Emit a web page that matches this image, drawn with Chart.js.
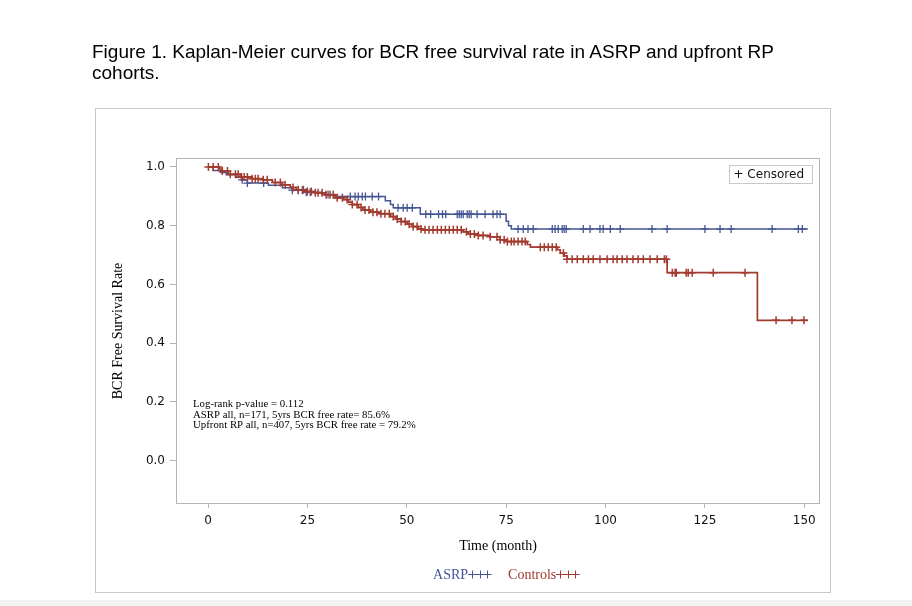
<!DOCTYPE html>
<html><head><meta charset="utf-8">
<script src="https://cdn.jsdelivr.net/npm/chart.js@4.4.0/dist/chart.umd.min.js"></script>
<style>
html,body{margin:0;padding:0;background:#fff;width:912px;height:606px;overflow:hidden;}
#strip{position:absolute;left:0;top:600px;width:912px;height:6px;background:#f3f3f3;}
#wrap{position:absolute;left:0;top:0;width:912px;height:606px;}
#title{position:absolute;left:92px;top:41px;font-family:"Liberation Sans",Arial,sans-serif;font-size:19px;line-height:21px;color:#000;white-space:nowrap;}
</style></head><body>
<div id="strip"></div>
<div id="wrap"><canvas id="c" width="912" height="606"></canvas></div>
<div id="title">Figure 1. Kaplan-Meier curves for BCR free survival rate in ASRP and upfront RP<br>cohorts.</div>
<script>
// ---- data (months, survival probability) ----
const xTicks = [0, 25, 50, 75, 100, 125, 150];
const yTicks = [0.0, 0.2, 0.4, 0.6, 0.8, 1.0];

const asrpTimes = [0, 1.3, 3.1, 4.6, 7.1, 8.6, 9.9, 15.2, 18.7, 21.2, 24.5, 28.7, 32.0, 44.6, 45.9, 46.6, 53.4, 75.0, 75.6, 76.3, 150.9];
const asrpSurv  = [1.000, 0.988, 0.981, 0.973, 0.965, 0.956, 0.945, 0.938, 0.929, 0.921, 0.914, 0.906, 0.899, 0.885, 0.872, 0.861, 0.839, 0.815, 0.800, 0.789, 0.789];
const asrpCensored = [8.6, 9.9, 14.0, 21.2, 22.7, 23.7, 24.7, 25.7, 30.2, 35.8, 37.0, 37.8, 38.8, 39.6, 41.3, 42.9, 47.8, 49.1, 50.1, 51.4,
  54.8, 56.0, 58.0, 59.0, 59.8, 62.7, 63.2, 63.7, 64.2, 65.2, 65.7, 66.2, 67.7, 69.7, 71.7, 72.7, 73.5,
  78.0, 79.3, 80.5, 81.8, 86.6, 87.3, 88.1, 89.1, 89.6, 90.1, 94.4, 96.1, 98.6, 99.4, 101.2, 103.7,
  111.7, 115.5, 125.0, 128.8, 131.6, 141.9, 148.5, 149.5];

const ctrlTimes = [0, 2.8, 3.5, 5.1, 8.1, 11.1, 13.7, 16.2, 18.7, 20.7, 22.2, 24.7, 27.0, 29.5, 32.0, 34.0, 35.3, 36.3, 37.8, 39.0, 40.8, 43.3, 45.9, 47.3, 48.6, 50.1, 51.4, 52.9, 53.9, 64.2, 65.5, 68.0, 71.0, 73.5, 75.3, 80.3, 81.1, 87.9, 88.6, 89.6, 90.3, 115.5, 138.2, 150.9];
const ctrlSurv  = [1.000, 0.993, 0.986, 0.975, 0.966, 0.960, 0.956, 0.947, 0.939, 0.930, 0.922, 0.916, 0.912, 0.905, 0.895, 0.889, 0.880, 0.872, 0.862, 0.853, 0.846, 0.841, 0.831, 0.823, 0.814, 0.805, 0.797, 0.789, 0.786, 0.779, 0.772, 0.767, 0.762, 0.752, 0.746, 0.736, 0.727, 0.718, 0.707, 0.697, 0.686, 0.640, 0.478, 0.478];
const ctrlCensored = [0.1, 1.3, 2.6, 3.6, 4.9, 5.6, 6.9, 7.6, 8.4, 9.1, 9.9, 11.1, 11.9, 12.6, 13.9, 14.9, 16.9, 18.2, 19.4, 21.4, 22.7,
  24.0, 25.0, 26.0, 27.0, 27.7, 28.7, 29.7, 30.7, 31.5, 32.5, 33.8, 35.0, 36.3, 37.5, 38.5, 39.5, 40.5, 41.5, 42.5, 43.5, 44.5,
  45.6, 46.6, 47.6, 48.6, 49.6, 50.6, 51.6, 52.6, 53.6, 54.6, 55.6, 56.6, 57.7, 58.7, 59.7, 60.7, 61.7, 62.7, 63.7, 65.0, 66.0,
  67.0, 68.0, 69.2, 71.0, 72.7, 73.5, 74.5, 75.3, 76.3, 77.0, 78.0, 79.0, 79.8, 83.6, 84.6, 85.6, 86.6, 87.6, 89.4, 90.3, 91.6,
  92.9, 94.4, 95.7, 96.9, 98.6, 100.4, 101.9, 102.9, 104.2, 105.4, 106.9, 108.2, 109.5, 111.2, 113.0, 114.8, 115.3, 116.8,
  117.5, 117.8, 120.3, 120.8, 121.8, 127.1, 135.1, 142.9, 146.9, 149.9];

const seriesNames = ['ASRP', 'Controls'];
const annotationLines = ['Log-rank p-value = 0.112', 'ASRP all, n=171, 5yrs BCR free rate= 85.6%', 'Upfront RP all, n=407, 5yrs BCR free rate = 79.2%'];

const BLUE = '#445694', RED = '#A23A2E';

function stepValue(times, surv, t) {
  let v = surv[0];
  for (let i = 0; i < times.length; i++) { if (times[i] <= t) v = surv[i]; else break; }
  return v;
}
const curve = (times, surv) => times.map((t, i) => ({x: t, y: surv[i]}));
const marks = (cens, times, surv) => cens.map(t => ({x: t, y: stepValue(times, surv, t)}));

function drawCross(ctx, x, y, r) {
  ctx.beginPath(); ctx.moveTo(x - r, y); ctx.lineTo(x + r, y); ctx.moveTo(x, y - r); ctx.lineTo(x, y + r); ctx.stroke();
}

const decor = {
  id: 'decor',
  beforeDraw(chart) {
    const ctx = chart.ctx;
    ctx.save();
    ctx.strokeStyle = '#c8c8c8'; ctx.lineWidth = 1;
    ctx.strokeRect(95.5, 108.5, 735, 484);
    ctx.restore();
  },
  beforeDatasetsDraw(chart) {
    const {ctx, chartArea: a} = chart;
    ctx.save();
    ctx.strokeStyle = '#b4b4b4'; ctx.lineWidth = 1;
    ctx.strokeRect(Math.round(a.left) - 0.5, Math.round(a.top) - 0.5, Math.round(a.right - a.left) + 1, Math.round(a.bottom - a.top) + 1);
    ctx.restore();
  },
  afterDraw(chart) {
    const {ctx, chartArea: a, scales} = chart;
    ctx.save();
    // Censored legend box
    const bx = Math.round(a.right) - 89.5, by = Math.round(a.top) + 6.5;
    ctx.fillStyle = '#fff'; ctx.fillRect(bx, by, 83, 18);
    ctx.strokeStyle = '#c8c8c8'; ctx.lineWidth = 1; ctx.strokeRect(bx, by, 83, 18);
    ctx.fillStyle = '#111'; ctx.font = '12px "DejaVu Sans", sans-serif';
    ctx.textBaseline = 'middle'; ctx.textAlign = 'left';
    ctx.fillText('+ Censored', bx + 4, by + 9.5);
    // annotation text
    ctx.font = '10.8px "Liberation Serif", "Times New Roman", serif';
    ctx.fillStyle = '#000'; ctx.textBaseline = 'alphabetic';
    annotationLines.forEach((s, i) => ctx.fillText(s, a.left + 16, 407 + i * 10.7));
    // bottom legend
    const cx = (scales.x.getPixelForValue(0) + scales.x.getPixelForValue(150)) / 2;
    ctx.font = '14px "Liberation Serif", "Times New Roman", serif';
    const items = [{t: seriesNames[0], c: BLUE}, {t: seriesNames[1], c: RED}];
    const symW = 23, gap = 17;
    const widths = items.map(it => ctx.measureText(it.t).width + symW);
    let x = cx - (widths[0] + gap + widths[1]) / 2;
    const ly = 574;
    items.forEach((it, i) => {
      ctx.fillStyle = it.c; ctx.fillText(it.t, x, ly + 5);
      const tw = ctx.measureText(it.t).width;
      ctx.strokeStyle = it.c; ctx.lineWidth = 1;
      ctx.beginPath(); ctx.moveTo(x + tw, ly + 0.5); ctx.lineTo(x + tw + symW, ly + 0.5); ctx.stroke();
      [4, 11.5, 19].forEach(d => drawCross(ctx, Math.round(x + tw + d) + 0.5, ly + 0.5, 4));
      x += widths[i] + gap;
    });
    ctx.restore();
  }
};

const tickFont = {family: '"DejaVu Sans", sans-serif', size: 12};
const titleFont = {family: '"Liberation Serif", "Times New Roman", serif', size: 14};

new Chart(document.getElementById('c'), {
  type: 'line',
  data: {
    datasets: [
      {label: 'Controls censored', data: marks(ctrlCensored, ctrlTimes, ctrlSurv), showLine: false, pointStyle: 'cross', pointRadius: 4, pointBorderWidth: 1.5, borderColor: RED, pointBorderColor: RED, order: 0},
      {label: 'Controls', data: curve(ctrlTimes, ctrlSurv), stepped: 'before', borderColor: RED, borderWidth: 1.7, pointRadius: 0, fill: false, order: 1},
      {label: 'ASRP censored', data: marks(asrpCensored, asrpTimes, asrpSurv), showLine: false, pointStyle: 'cross', pointRadius: 4, pointBorderWidth: 1.3, borderColor: BLUE, pointBorderColor: BLUE, order: 2},
      {label: 'ASRP', data: curve(asrpTimes, asrpSurv), stepped: 'before', borderColor: BLUE, borderWidth: 1.5, pointRadius: 0, fill: false, order: 3}
    ]
  },
  options: {
    responsive: false, animation: false, events: [],
    layout: {padding: {left: 105.6, right: 93, top: 159, bottom: 47.6}},
    plugins: {legend: {display: false}, tooltip: {enabled: false}},
    scales: {
      x: {
        type: 'linear', min: -7.8, max: 153.7,
        afterBuildTicks: s => { s.ticks = xTicks.map(v => ({value: v})); },
        afterFit: s => { s.height = 55.4; },
        grid: {drawOnChartArea: false, drawTicks: true, tickLength: 5, color: '#b4b4b4'},
        border: {display: false},
        ticks: {font: tickFont, color: '#111', padding: 6, maxRotation: 0, autoSkip: false},
        title: {display: true, text: 'Time (month)', font: titleFont, color: '#000', padding: {top: 4, bottom: 4}}
      },
      y: {
        type: 'linear', min: -0.144, max: 1.027,
        afterBuildTicks: s => { s.ticks = yTicks.map(v => ({value: v})); },
        afterFit: s => { s.width = 71.4; },
        grid: {drawOnChartArea: false, drawTicks: true, tickLength: 7, color: '#b4b4b4'},
        border: {display: false},
        ticks: {font: tickFont, color: '#111', padding: 5, autoSkip: false, callback: v => Number(v).toFixed(1)},
        title: {display: true, text: 'BCR Free Survival Rate', font: titleFont, color: '#000', padding: {top: 4, bottom: 4}}
      }
    }
  },
  plugins: [decor]
});
</script>
</body></html>
